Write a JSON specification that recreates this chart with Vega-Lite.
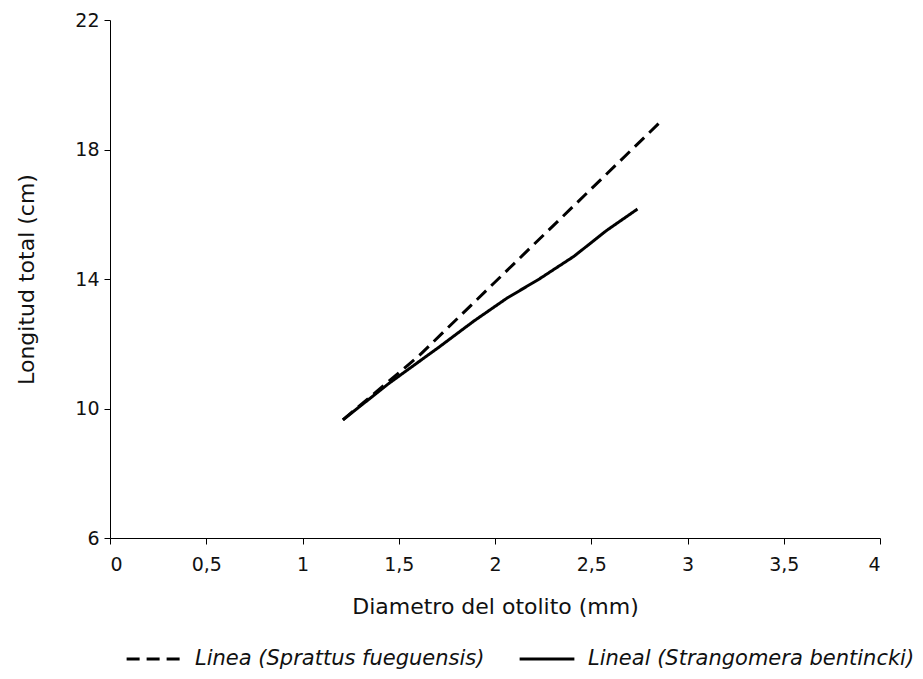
{
  "$schema": "https://vega.github.io/schema/vega-lite/v6.json",
  "width": 770,
  "height": 518,
  "autosize": {"type": "none"},
  "padding": {"left": 110, "top": 20, "right": 43, "bottom": 141},
  "background": "white",
  "config": {
    "view": {"stroke": null},
    "font": "DejaVu Sans",
    "axis": {"grid": false, "domainColor": "black", "tickColor": "black", "labelColor": "#111", "titleColor": "#111", "labelFont": "DejaVu Sans", "titleFont": "DejaVu Sans", "titleFontWeight": "normal"}
  },
  "data": {
    "values": [
      {"d": 1.21, "l": 9.65, "serie": "Linea (Sprattus fueguensis)"},
      {"d": 1.6, "l": 11.6, "serie": "Linea (Sprattus fueguensis)"},
      {"d": 2.85, "l": 18.8, "serie": "Linea (Sprattus fueguensis)"},
      {"d": 1.21, "l": 9.65, "serie": "Lineal (Strangomera bentincki)"},
      {"d": 1.45, "l": 10.78, "serie": "Lineal (Strangomera bentincki)"},
      {"d": 1.71, "l": 11.9, "serie": "Lineal (Strangomera bentincki)"},
      {"d": 1.89, "l": 12.7, "serie": "Lineal (Strangomera bentincki)"},
      {"d": 2.06, "l": 13.4, "serie": "Lineal (Strangomera bentincki)"},
      {"d": 2.23, "l": 14.0, "serie": "Lineal (Strangomera bentincki)"},
      {"d": 2.41, "l": 14.7, "serie": "Lineal (Strangomera bentincki)"},
      {"d": 2.58, "l": 15.5, "serie": "Lineal (Strangomera bentincki)"},
      {"d": 2.74, "l": 16.16, "serie": "Lineal (Strangomera bentincki)"}
    ]
  },
  "mark": {"type": "line", "strokeWidth": 3, "color": "black"},
  "encoding": {
    "x": {
      "field": "d", "type": "quantitative",
      "scale": {"domain": [0, 4], "nice": false},
      "axis": {"values": [0, 0.5, 1, 1.5, 2, 2.5, 3, 3.5, 4], "labelExpr": "replace(format(datum.value, '~g'), '.', ',')", "title": "Diametro del otolito (mm)", "labelFontSize": 19, "titleFontSize": 22, "labelPadding": 11, "titlePadding": 22, "tickSize": 6}
    },
    "y": {
      "field": "l", "type": "quantitative",
      "scale": {"domain": [6, 22], "nice": false, "zero": false},
      "axis": {"values": [6, 10, 14, 18, 22], "title": "Longitud total (cm)", "labelFontSize": 19, "titleFontSize": 22, "labelPadding": 5, "titlePadding": 36, "tickSize": 6}
    },
    "strokeDash": {
      "field": "serie", "type": "nominal",
      "scale": {"domain": ["Linea (Sprattus fueguensis)", "Lineal (Strangomera bentincki)"], "range": [[13, 7], [1, 0]]},
      "legend": {"title": null, "orient": "none", "direction": "horizontal", "legendX": 15, "legendY": 610, "symbolType": "stroke", "symbolSize": 3000, "symbolStrokeWidth": 3, "symbolStrokeColor": "black", "labelFont": "DejaVu Sans", "labelFontSize": 21, "labelFontStyle": "italic", "labelColor": "#111", "columnPadding": 28, "labelOffset": 12, "labelLimit": 500}
    }
  }
}
